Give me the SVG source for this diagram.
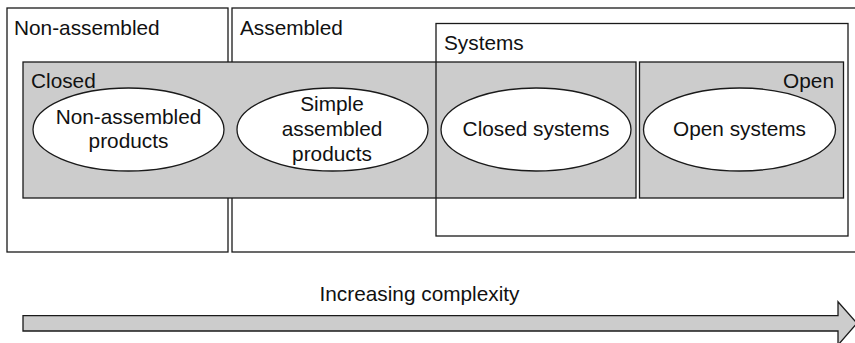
<svg xmlns="http://www.w3.org/2000/svg" width="855" height="343" viewBox="0 0 855 343">
  <style>
    .frame { fill: #ffffff; stroke: #1a1a1a; stroke-width: 1.3; }
    .outline { fill: none; stroke: #1a1a1a; stroke-width: 1.3; }
    .zone { fill: #cccccc; stroke: #1a1a1a; stroke-width: 1.3; }
    .item { fill: #ffffff; stroke: #1a1a1a; stroke-width: 1.3; }
    text { font-family: "Liberation Sans", Arial, sans-serif; font-size: 20.8px; fill: #111111; }
    .mid { text-anchor: middle; }
  </style>

  <!-- category frames -->
  <g id="non-assembled">
    <rect class="frame" x="7" y="8" width="221" height="244"/>
    <text x="14" y="34.5">Non-assembled</text>
  </g>
  <g id="assembled">
    <rect class="frame" x="232" y="8" width="640" height="244"/>
    <text x="240" y="34.5">Assembled</text>
  </g>

  <!-- closed / open zones -->
  <g id="closed">
    <rect class="zone" x="23" y="62" width="613" height="136"/>
    <text x="31" y="87.5">Closed</text>
  </g>
  <g id="open">
    <rect class="zone" x="639.5" y="62" width="204" height="136"/>
    <text x="834" y="88" text-anchor="end">Open</text>
  </g>

  <g id="systems">
    <rect class="outline" x="436" y="23.5" width="412" height="212.5"/>
    <text x="444" y="50">Systems</text>
  </g>

  <!-- product types -->
  <g id="non-assembled-products">
    <ellipse class="item" cx="128.5" cy="129.5" rx="95.5" ry="41.5"/>
    <text class="mid" x="128.5" y="124">Non-assembled</text>
    <text class="mid" x="128.5" y="148">products</text>
  </g>
  <g id="simple-assembled-products">
    <ellipse class="item" cx="332.5" cy="129.5" rx="95.5" ry="41.5"/>
    <text class="mid" x="332" y="111">Simple</text>
    <text class="mid" x="332" y="136">assembled</text>
    <text class="mid" x="332" y="161">products</text>
  </g>
  <g id="closed-systems">
    <ellipse class="item" cx="536" cy="129.5" rx="95" ry="41.5"/>
    <text class="mid" x="536" y="136">Closed systems</text>
  </g>
  <g id="open-systems">
    <ellipse class="item" cx="739.5" cy="129.5" rx="96" ry="41.5"/>
    <text class="mid" x="739.5" y="136">Open systems</text>
  </g>

  <!-- complexity axis -->
  <g id="connectors">
    <path class="zone" d="M23 315.7 H838 V301.7 L857 323.3 L838 345 V331 H23 Z"/>
    <text class="mid" x="419.5" y="301" font-size="21.8">Increasing complexity</text>
  </g>
</svg>
